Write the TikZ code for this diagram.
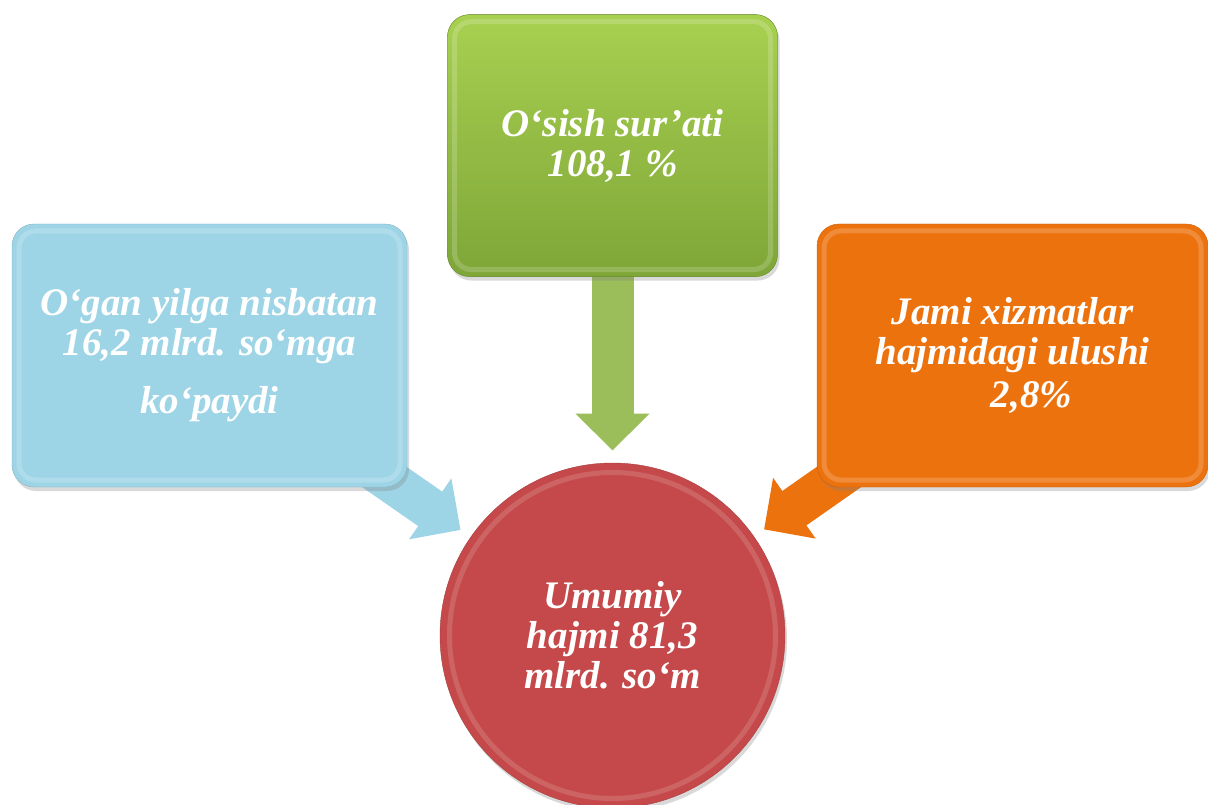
\documentclass[tikz,border=0pt]{standalone}
\usepackage{fontspec}
\setmainfont{Liberation Serif}
\usetikzlibrary{positioning}
\usetikzlibrary{arrows.meta,shadows,backgrounds}
\definecolor{skyfill}{RGB}{158,213,230}
\definecolor{leaftop}{RGB}{168,208,80}
\definecolor{leafbot}{RGB}{126,166,56}
\definecolor{leafarrow}{RGB}{155,189,90}
\definecolor{flame}{RGB}{236,114,14}
\definecolor{hubred}{RGB}{197,73,74}

\begin{document}
\begin{tikzpicture}[x=1pt, y=1pt,
    whitetext/.style={text=white, align=center, font=\fontsize{39}{40}\selectfont\bfseries\itshape},
    bevel/.style={path picture={\draw[white, opacity=.18, line width=5pt, rounded corners=17pt]
        ([shift={(7pt,-7pt)}]path picture bounding box.north west) rectangle
        ([shift={(-7pt,7pt)}]path picture bounding box.south east);}},
    card/.style={whitetext, bevel, rounded corners=22pt, inner sep=0pt, fill=#1, draw=#1!85!black,
        drop shadow={shadow xshift=2pt, shadow yshift=-4pt, opacity=.3}},
    hub/.style={whitetext, circle, inner sep=0pt, minimum size=345pt, fill=hubred, draw=hubred!85!black,
        drop shadow={shadow xshift=2pt, shadow yshift=-4pt, opacity=.3},
        path picture={\draw[white, opacity=.15, line width=5pt] (path picture bounding box.center) circle (163pt);}},
    fat/.style={line width=42pt, -{Triangle[length=37pt, width=72pt]}, shorten >=185pt}]

  \useasboundingbox (0,0) rectangle (1208,-805);

  \node [hub] (total) at (612.5,-635.5) {Umumiy\\hajmi 81,3\\mlrd. so‘m};

  \node [card=leafbot, top color=leaftop, bottom color=leafbot, minimum width=330pt, minimum height=262pt,
         above=186pt of total] (growth) {O‘sish sur’ati\\108,1 \%};
  \node [card=skyfill, minimum width=395pt, minimum height=263pt] (gain) at (209.5,-355.5)
        {O‘gan yilga nisbatan\\16,2 mlrd. so‘mga\\[18pt]ko‘paydi};
  \node [card=flame, minimum width=391pt, minimum height=263pt] (share) at (1012.5,-355.5)
        {Jami xizmatlar\\hajmidagi ulushi\\[3pt]\hspace*{38pt}2,8\%};

  \begin{scope}[on background layer]
    \draw [fat, leafarrow] (growth.center) -- (total.center);
    \draw [fat, skyfill] (gain.center) -- (total.center);
    \draw [fat, flame] (share.center) -- (total.center);
  \end{scope}
\end{tikzpicture}
\end{document}
